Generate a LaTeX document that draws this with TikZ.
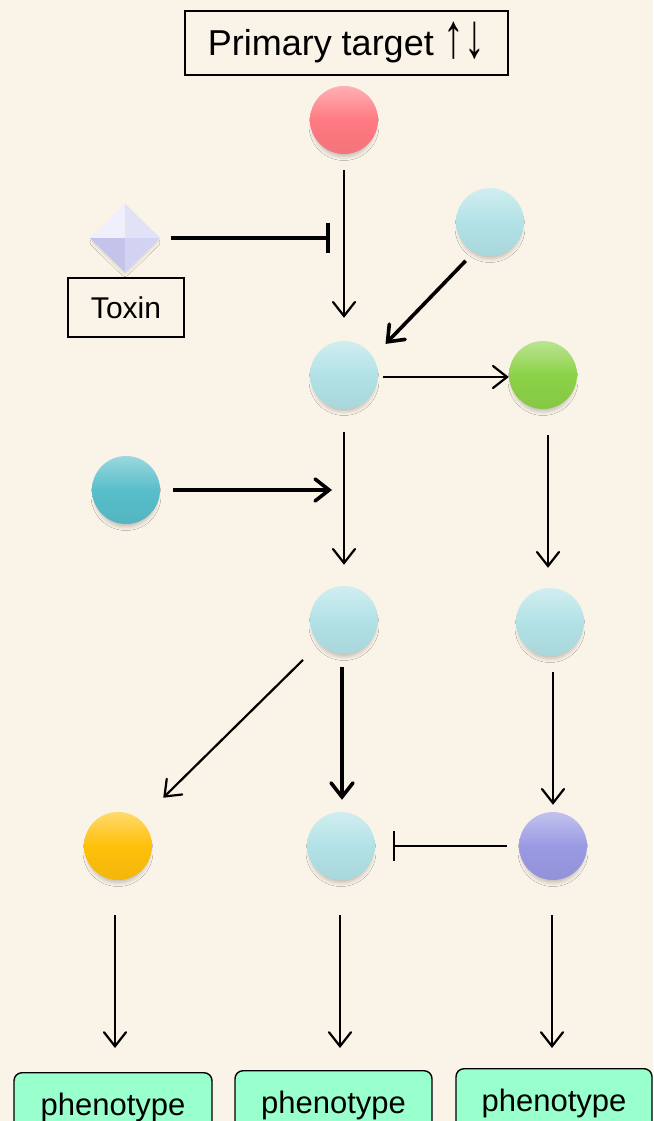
\documentclass[tikz,border=0pt]{standalone}
\usepackage{fontspec}
\setmainfont{Liberation Sans}
\usetikzlibrary{arrows.meta,shapes.geometric,shadows.blur}
\definecolor{bg}{RGB}{250,243,232}
\definecolor{cred}{RGB}{255,122,130}
\definecolor{cblue}{RGB}{178,226,230}
\definecolor{cgreen}{RGB}{140,210,72}
\definecolor{cteal}{RGB}{88,190,202}
\definecolor{cyellow}{RGB}{255,192,10}
\definecolor{cpurple}{RGB}{154,154,228}
\definecolor{cpheno}{RGB}{153,255,204}
\definecolor{dia1}{RGB}{240,240,252}
\definecolor{dia2}{RGB}{226,226,246}
\definecolor{dia3}{RGB}{196,196,234}
\definecolor{dia4}{RGB}{210,210,242}
\begin{document}
\begin{tikzpicture}[x=1pt,y=-1pt,
  sphere/.style={circle, minimum size=68pt, inner sep=0pt,
    top color=#1!60!white, bottom color=#1!95!black, middle color=#1,
    blur shadow={shadow xshift=0pt, shadow yshift=-6pt, shadow scale=0.92, shadow blur radius=4pt, shadow opacity=22}},
  labelbox/.style={draw=black, line width=1.6pt, inner xsep=0pt, text depth=0pt, anchor=north},
  phenobox/.style={draw=black, line width=1.4pt, fill=cpheno, rounded corners=8pt, anchor=north,
    minimum width=198pt, inner xsep=0pt, inner ysep=20pt, text height=23pt, text depth=40pt,
    font=\fontsize{31}{34}\selectfont},
  arr/.style={line width=2.2pt, -{Straight Barb[length=14pt,width=22pt,line cap=round]}},
  arrthick/.style={line width=3.6pt, -{Straight Barb[length=14pt,width=22pt,line cap=round]}},
  inh/.style={line width=#1, -{Bar[width=30pt]}},
]
\useasboundingbox (0,0) rectangle (653,1121);
\clip (0,0) rectangle (653,1121);
\fill[bg] (0,0) rectangle (653,1121);

% labels
\node[labelbox, minimum width=323pt, inner ysep=19pt, text height=26pt,
  font=\fontsize{36}{40}\selectfont] (title) at (346.5,10) {Primary target \raisebox{-2pt}{\scalebox{1.15}[1.75]{↑↓}}};
\node[labelbox, minimum width=116pt, inner ysep=18pt, text height=23pt,
  font=\fontsize{30}{34}\selectfont] (toxlab) at (126,277) {Toxin};

% diamond (toxin)
\node[diamond, minimum width=70pt, minimum height=68pt, inner sep=0pt,
  blur shadow={shadow xshift=0pt, shadow yshift=-5pt, shadow scale=0.9, shadow blur radius=4pt, shadow opacity=18},
  fill=dia2] (tox) at (125,238) {};
\fill[dia1] (tox.north) -- (tox.west) -- (tox.center) -- cycle;
\fill[dia2] (tox.north) -- (tox.east) -- (tox.center) -- cycle;
\fill[dia3] (tox.south) -- (tox.west) -- (tox.center) -- cycle;
\fill[dia4] (tox.south) -- (tox.east) -- (tox.center) -- cycle;

% spheres
\node[sphere=cred] (red) at (344,120) {};
\node[sphere=cblue] (tr) at (490,222) {};
\node[sphere=cblue] (B) at (344,375) {};
\node[sphere=cgreen] (G) at (543,375) {};
\node[sphere=cteal] (teal) at (126,490) {};
\node[sphere=cblue] (C) at (344,620) {};
\node[sphere=cblue] (D) at (550,622) {};
\node[sphere=cyellow] (Y) at (118,846) {};
\node[sphere=cblue] (E) at (341,846) {};
\node[sphere=cpurple] (P) at (553,846) {};

% phenotype boxes
\node[phenobox] (ph1) at (113,1072) {phenotype};
\node[phenobox, minimum width=197pt] (ph2) at (333.5,1070) {phenotype};
\node[phenobox, minimum width=196pt] (ph3) at (554,1068) {phenotype};

% coordinates for edge targets
\coordinate (inhpt) at (B.north |- tox.east);
\coordinate (tealpt) at (B.north |- teal.east);

% connectors
\draw[arr, shorten <=16pt, shorten >=23pt] (red) -- (B);
\draw[inh=3.6pt, shorten <=11pt, shorten >=14pt] (tox.east) -- (inhpt);
\draw[arrthick, shorten <=12pt, shorten >=18pt] (tr.242) -- (B.32);
\draw[arr, shorten <=5pt] ([yshift=-2pt]B.east) -- ([yshift=-2pt]G.west);
\draw[arrthick, shorten <=13pt, shorten >=12pt] (teal.east) -- (tealpt);
\draw[arr, shorten <=23pt, shorten >=21pt] (B.south) -- (C.north);
\draw[arr, shorten <=26pt, shorten >=20pt] ([xshift=5pt]G.south) -- ([xshift=5pt]G.south |- D.north);
\draw[arr, shorten <=23pt, shorten >=32pt] (C.224) -- (Y.49);
\draw[arrthick, shorten <=13pt, shorten >=12pt] ([xshift=-2pt]C.south) -- ([xshift=1pt]E.north);
\draw[arr, shorten <=16pt, shorten >=7pt] ([xshift=3pt]D.south) -- (P.north);
\draw[inh=2.2pt, shorten <=12pt, shorten >=18pt] (P.west) -- (E.east);
\draw[arr, shorten <=35pt, shorten >=24pt] ([xshift=-3pt]Y.south) -- ([xshift=-3pt]Y.south |- ph1.north);
\draw[arr, shorten <=35pt, shorten >=22pt] ([xshift=-1pt]E.south) -- ([xshift=-1pt]E.south |- ph2.north);
\draw[arr, shorten <=35pt, shorten >=20pt] ([xshift=-1pt]P.south) -- ([xshift=-1pt]P.south |- ph3.north);
\end{tikzpicture}
\end{document}
